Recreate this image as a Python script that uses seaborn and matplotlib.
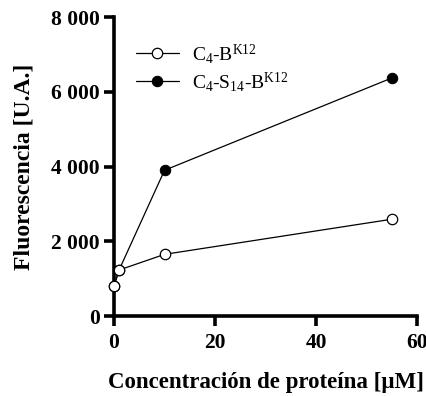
import matplotlib
matplotlib.use("Agg")
import matplotlib.pyplot as plt
import seaborn as sns
import pandas as pd
from matplotlib.ticker import FuncFormatter

conc = [0, 1, 10, 55]
series_open = [800, 1230, 1650, 2590]
series_filled = [800, 1230, 3900, 6370]
label_open = r"C$_4$-B$^{\mathrm{K12}}$"
label_filled = r"C$_4$-S$_{14}$-B$^{\mathrm{K12}}$"

sns.set_style("ticks")
plt.rcParams['font.family'] = ['Liberation Serif', 'DejaVu Serif']
plt.rcParams['mathtext.fontset'] = 'custom'
plt.rcParams['mathtext.rm'] = 'Liberation Serif'
plt.rcParams['mathtext.it'] = 'Liberation Serif'
for k in ['text.color', 'axes.labelcolor', 'xtick.color', 'ytick.color', 'axes.edgecolor']:
    plt.rcParams[k] = 'black'

df = pd.concat([
    pd.DataFrame({"x": conc, "y": series_open, "s": label_open}),
    pd.DataFrame({"x": conc, "y": series_filled, "s": label_filled}),
])

fig = plt.figure(figsize=(4.27, 3.96), dpi=100)
ax = fig.add_axes([0.267, 0.202, 0.710, 0.755])

sns.lineplot(data=df[df.s == label_filled], x="x", y="y", ax=ax, color="black",
             lw=0.9, marker="o", markersize=7.5, markerfacecolor="black",
             markeredgecolor="black", label=label_filled, zorder=2)
sns.lineplot(data=df[df.s == label_open], x="x", y="y", ax=ax, color="black",
             lw=0.9, marker="o", markersize=7.5, markerfacecolor="white",
             markeredgecolor="black", markeredgewidth=0.9, label=label_open, zorder=3)

ax.set_xlim(0, 60)
ax.set_ylim(0, 8000)
ax.set_xticks([0, 20, 40, 60])
ax.set_yticks([0, 2000, 4000, 6000, 8000])
ax.yaxis.set_major_formatter(FuncFormatter(lambda v, p: f"{int(v):,}".replace(",", " ")))
for side in ["top", "right"]:
    ax.spines[side].set_visible(False)
for side in ["left", "bottom"]:
    ax.spines[side].set_linewidth(2.6)
    ax.spines[side].set_color("black")
    ax.spines[side].set_clip_on(False)
ax.tick_params(width=2.6, length=7, direction="out", labelsize=15.5, colors="black")
ax.tick_params(axis="x", pad=5)
ax.tick_params(axis="y", pad=3)
for lab in ax.get_xticklabels() + ax.get_yticklabels():
    lab.set_fontweight("bold")
ax.set_xlabel("Concentración de proteína [µM]", fontsize=16.5, fontweight="bold", labelpad=14)
ax.set_ylabel("Fluorescencia [U.A.]", fontsize=17, fontweight="bold", labelpad=12)
for l in ax.lines:
    l.set_clip_on(False)

h, l = ax.get_legend_handles_labels()
order = [l.index(label_open), l.index(label_filled)]
ax.legend([h[i] for i in order], [l[i] for i in order], loc="upper left",
          bbox_to_anchor=(0.015, 0.975), frameon=False, fontsize=14,
          handlelength=2.2, handletextpad=0.7, labelspacing=0.2)

fig.savefig("out.png", dpi=100)
